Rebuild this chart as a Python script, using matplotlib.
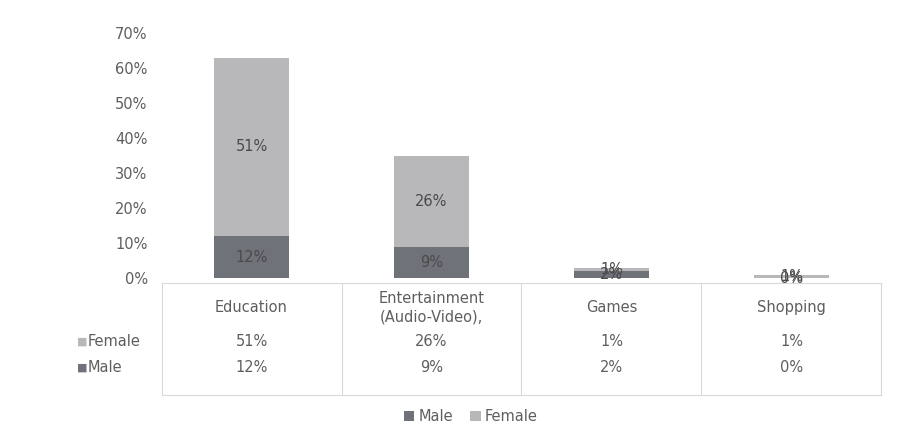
import numpy as np
import matplotlib.pyplot as plt
import matplotlib.transforms as mtransforms

categories = ["Education", "Entertainment\n(Audio-Video),", "Games", "Shopping"]
male = [12, 9, 2, 0]
female = [51, 26, 1, 1]
series_names = ["Male", "Female"]
yticks = [0, 10, 20, 30, 40, 50, 60, 70]

male_color = "#707279"
female_color = "#b8b8bb"
text_color = "#5e5e5e"
line_color = "#d9d9d9"
fs = 10.5

fig = plt.figure(figsize=(9.23, 4.48), dpi=100)
ax = fig.add_axes([0.175, 0.379, 0.78, 0.547])

x = np.arange(len(categories))
width = 0.42
b1 = ax.bar(x, male, width, color=male_color, label="Male")
b2 = ax.bar(x, female, width, bottom=male, color=female_color, label="Female")

# data labels in the middle of each segment
for i in range(len(categories)):
    ax.text(x[i], male[i] / 2, f"{male[i]}%", ha="center", va="center",
            fontsize=fs, color="#4a4a4a")
    ax.text(x[i], male[i] + female[i] / 2, f"{female[i]}%", ha="center",
            va="center", fontsize=fs, color="#4a4a4a")

ax.set_xlim(-0.5, len(categories) - 0.5)
ax.set_ylim(0, 70)
ax.set_yticks(yticks)
ax.set_yticklabels([f"{t}%" for t in yticks], fontsize=fs, color=text_color)
ax.tick_params(axis="y", length=0, pad=10)
ax.tick_params(axis="x", length=0)
ax.set_xticks([])
for s in ax.spines.values():
    s.set_visible(False)

# data table under the plot
trans = mtransforms.blended_transform_factory(ax.transData, ax.transAxes)
header_y = -0.12
female_y = -0.26
male_y = -0.365
table_bottom = -0.475

for i, cat in enumerate(categories):
    ax.text(x[i], header_y, cat, transform=trans, ha="center", va="center",
            fontsize=fs, color=text_color, linespacing=1.3)
    ax.text(x[i], female_y, f"{female[i]}%", transform=trans, ha="center",
            va="center", fontsize=fs, color=text_color)
    ax.text(x[i], male_y, f"{male[i]}%", transform=trans, ha="center",
            va="center", fontsize=fs, color=text_color)

for xv in np.arange(len(categories) + 1) - 0.5:
    ax.plot([xv, xv], [-0.02, table_bottom], transform=trans, color=line_color,
            lw=0.8, clip_on=False)
ax.plot([-0.5, len(categories) - 0.5], [-0.02, -0.02], transform=trans,
        color=line_color, lw=0.8, clip_on=False)
ax.plot([-0.5, len(categories) - 0.5], [table_bottom, table_bottom],
        transform=trans, color=line_color, lw=0.8, clip_on=False)

# row labels with colour keys
for name, color, yy in [("Female", female_color, female_y), ("Male", male_color, male_y)]:
    ax.text(-0.97, yy, "■", transform=trans, ha="left", va="center",
            fontsize=8, color=color)
    ax.text(-0.91, yy, name, transform=trans, ha="left", va="center",
            fontsize=fs, color=text_color)

leg = fig.legend(handles=[b1, b2], labels=series_names, loc="center",
                 bbox_to_anchor=(0.51, 0.07), ncol=2, frameon=False,
                 fontsize=fs, handlelength=0.7, handleheight=0.7,
                 handletextpad=0.3, columnspacing=1.2)
for t in leg.get_texts():
    t.set_color(text_color)

fig.savefig("out.png", dpi=100)
